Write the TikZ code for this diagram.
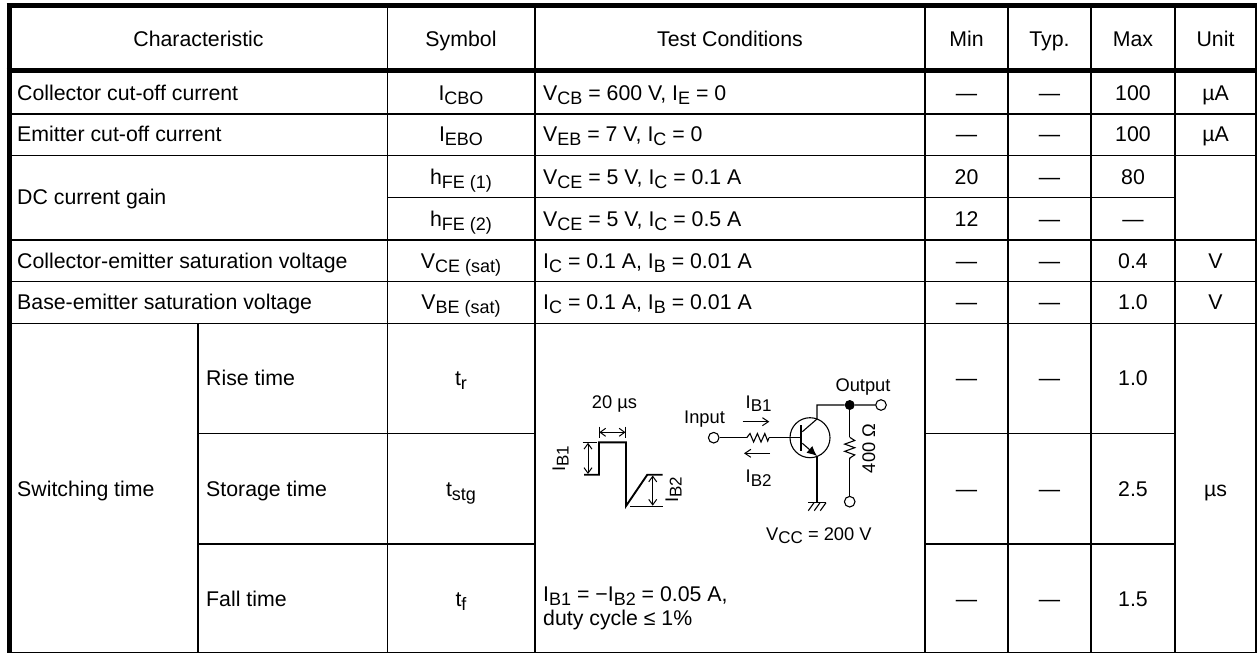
\documentclass[tikz,border=0pt]{standalone}
\usepackage{fontspec}
\setmainfont{Liberation Sans}
\usetikzlibrary{arrows.meta}
\newcommand\tbf{\fontsize{21.3}{23.5}\selectfont}
\newcommand\dgf{\fontsize{18.3}{20}\selectfont}
\newcommand\sbs[1]{\raisebox{-4pt}{\fontsize{18}{18}\selectfont #1}}
\newcommand\sbd[1]{\raisebox{-3.5pt}{\fontsize{17}{17}\selectfont #1}}
\tikzset{
  x=1pt,y=-1pt,
  heavy/.style={line width=4.6pt},
  leftheavy/.style={line width=5pt},
  rule/.style={line width=1.5pt},
  ctext/.style={inner sep=0pt,anchor=base,font=\tbf},
  ltext/.style={inner sep=0pt,anchor=base west,font=\tbf},
  dtext/.style={inner sep=0pt,anchor=base,font=\dgf},
  wire/.style={line width=1.1pt},
  pulse/.style={line width=1.9pt,line join=miter},
  thin tick/.style={line width=1pt},
  dim/.style={line width=1pt,{Straight Barb[length=5.5pt,width=8pt]}-{Straight Barb[length=5.5pt,width=8pt]}},
  flow/.style={line width=1pt,-{Straight Barb[length=6pt,width=8pt]}},
  term/.style={circle,draw,line width=1.1pt,fill=white,inner sep=0pt,minimum size=10.6pt},
  junction/.style={circle,fill=black,inner sep=0pt,minimum size=10pt},
}
\begin{document}
\begin{tikzpicture}
\useasboundingbox (0,0) rectangle (1257,653);
% --- table rules ---
\draw[rule] (1256,5) -- (1256,652.3);
\draw[rule] (387.7,5) -- (387.7,652.3);
\draw[rule] (535,5) -- (535,652.3);
\draw[rule] (925,5) -- (925,652.3);
\draw[rule] (1008,5) -- (1008,652.3);
\draw[rule] (1091,5) -- (1091,652.3);
\draw[rule] (1175,5) -- (1175,652.3);
\draw[rule] (198,323.7) -- (198,652.3);
\draw[rule] (9,114) -- (1257,114);
\draw[rule] (9,155.7) -- (1257,155.7);
\draw[rule] (387.7,197.4) -- (1175,197.4);
\draw[rule] (9,240) -- (1257,240);
\draw[rule] (9,281.7) -- (1257,281.7);
\draw[rule] (9,323.7) -- (1257,323.7);
\draw[rule] (198,433.7) -- (535,433.7);
\draw[rule] (925,433.7) -- (1175,433.7);
\draw[rule] (198,543.8) -- (535,543.8);
\draw[rule] (925,543.8) -- (1175,543.8);
\draw[rule] (7,652.3) -- (1257,652.3);
\draw[heavy] (6.7,5.5) -- (1257,5.5);
\draw[heavy] (6.7,70.5) -- (1257,70.5);
\draw[leftheavy] (9.2,3.2) -- (9.2,653);
% --- header ---
\node[ctext] (hChar) at (198.5,46) {Characteristic};
\node[ctext] (hSym) at (461,46) {Symbol};
\node[ctext] (hTest) at (730,46) {Test Conditions};
\node[ctext] (hMin) at (966.5,46) {Min};
\node[ctext] (hTyp) at (1049.5,46) {Typ.};
\node[ctext] (hMax) at (1133,46) {Max};
\node[ctext] (hUnit) at (1215.5,46) {Unit};
% --- characteristic ---
\node[ltext] (c1) at (17,100) {Collector cut-off current};
\node[ltext] (c2) at (17,141.5) {Emitter cut-off current};
\node[ltext] (c3) at (17,204) {DC current gain};
\node[ltext] (c4) at (17,268) {Collector-emitter saturation voltage};
\node[ltext] (c5) at (17,309.5) {Base-emitter saturation voltage};
\node[ltext] (c6) at (17,496.5) {Switching time};
\node[ltext] (c7) at (206,385.5) {Rise time};
\node[ltext] (c8) at (206,496.5) {Storage time};
\node[ltext] (c9) at (206,606) {Fall time};
% --- symbols ---
\node[ctext] (s1) at (461,100) {I\sbs{CBO}};
\node[ctext] (s2) at (461,141.5) {I\sbs{EBO}};
\node[ctext] (s3) at (461,184) {h\sbs{FE (1)}};
\node[ctext] (s4) at (461,226) {h\sbs{FE (2)}};
\node[ctext] (s5) at (461,268) {V\sbs{CE (sat)}};
\node[ctext] (s6) at (461,309.5) {V\sbs{BE (sat)}};
\node[ctext] (s7) at (461,385.5) {t\sbs{r}};
\node[ctext] (s8) at (461,496.5) {t\sbs{stg}};
\node[ctext] (s9) at (461,606) {t\sbs{f}};
% --- conditions ---
\node[ltext] (t1) at (543,100) {V\sbs{CB} = 600 V, I\sbs{E} = 0};
\node[ltext] (t2) at (543,141.5) {V\sbs{EB} = 7 V, I\sbs{C} = 0};
\node[ltext] (t3) at (543,184) {V\sbs{CE} = 5 V, I\sbs{C} = 0.1 A};
\node[ltext] (t4) at (543,226) {V\sbs{CE} = 5 V, I\sbs{C} = 0.5 A};
\node[ltext] (t5) at (543,268) {I\sbs{C} = 0.1 A, I\sbs{B} = 0.01 A};
\node[ltext] (t6) at (543,309.5) {I\sbs{C} = 0.1 A, I\sbs{B} = 0.01 A};
\node[ltext] (t7) at (543,601.7) {I\sbs{B1} = −I\sbs{B2} = 0.05 A,};
\node[ltext] (t8) at (543,625.2) {duty cycle ≤ 1\%};
% --- min / typ / max / unit ---
\foreach \nm/\yy/\a/\b/\c/\u in {
  r1/100/—/—/100/µA,
  r2/141.5/—/—/100/µA,
  r3/184/20/—/80/,
  r4/226/12/—/—/,
  r5/268/—/—/0.4/V,
  r6/309.5/—/—/1.0/V,
  r7/385.5/—/—/1.0/,
  r8/496.5/—/—/2.5/µs,
  r9/606/—/—/1.5/}{
  \node[ctext] (\nm min) at (966.5,\yy) {\a};
  \node[ctext] (\nm typ) at (1049.5,\yy) {\b};
  \node[ctext] (\nm max) at (1133,\yy) {\c};
  \node[ctext] (\nm unit) at (1215.5,\yy) {\u};
}
% --- pulse waveform ---
\draw[pulse] (584,474.7) -- (599,474.7) -- (599,442.3) -- (626,442.3) -- (626,506) -- (647.3,474.7) -- (662.7,474.7);
\draw[thin tick] (582.7,442.5) -- (597,442.5);
\draw[thin tick] (630,506) -- (662.7,506);
\draw[thin tick] (599,426.7) -- (599,438.3);
\draw[thin tick] (625.8,426.7) -- (625.8,438.3);
\coordinate (wL) at (599.3,432.3);
\coordinate (wR) at (625.5,432.3);
\draw[dim] (wL) -- (wR);
\coordinate (b1T) at (588,442.8);
\coordinate (b1B) at (588,474);
\draw[dim] (b1T) -- (b1B);
\coordinate (b2T) at (652.7,475.5);
\coordinate (b2B) at (652.7,505.7);
\draw[dim] (b2T) -- (b2B);
\node[dtext] (lw) at (614.5,408.3) {20 µs};
\node[dtext,rotate=90] (lb1) at (565,459) {I\sbd{B1}};
\node[dtext,rotate=90] (lb2) at (678,490) {I\sbd{B2}};
% --- circuit ---
\node[term] (inp) at (713.7,437.7) {};
\node[term] (outp) at (881,405) {};
\node[term] (vcc) at (849.7,501.7) {};
\node[junction] (jn) at (849.7,405) {};
\coordinate (rinA) at (746.7,437.7);
\coordinate (rinB) at (769,437.7);
\coordinate (base) at (800.7,437.7);
\coordinate (tc) at (810,437.7);
\coordinate (baseT) at (800.7,425);
\coordinate (baseB) at (800.7,450.7);
\coordinate (collB) at (802.3,431.7);
\coordinate (collK) at (817,419);
\coordinate (collTop) at (817,405);
\coordinate (emitB) at (802.3,443.3);
\coordinate (emitK) at (817,456);
\coordinate (gnd) at (817,502.7);
\coordinate (rvA) at (849.7,437.3);
\coordinate (rvB) at (849.7,459.3);
\draw[wire] (inp) -- (rinA);
\draw[wire,line join=miter] (rinA) -- ++(3.3,-4.2) -- ++(3.6,8.5) -- ++(3.8,-8.5) -- ++(3.6,8.5) -- ++(3.8,-8.5) -- ++(2.9,7.5) -- (rinB);
\draw[wire] (rinB) -- (base);
\draw[wire] (tc) circle[radius=20];
\draw[line width=2pt] (baseT) -- (baseB);
\draw[wire] (collB) -- (collK) -- (collTop) -- (jn) -- (outp);
\draw[wire,-{Latex[length=10pt,width=9pt]}] (emitB) -- (emitK);
\draw[wire] (emitK) -- (gnd);
\draw[wire] (808,502.7) -- (826,502.7);
\draw[wire] (814,502.7) -- (808.3,510.7);
\draw[wire] (820,502.7) -- (814.3,510.7);
\draw[wire] (826,502.7) -- (820.3,510.7);
\draw[wire] (jn) -- (rvA);
\draw[wire,line join=miter] (rvA) -- ++(5,3.2) -- ++(-10,3.6) -- ++(10,3.6) -- ++(-10,3.6) -- ++(10,3.6) -- ++(-5,3.2) -- (rvB);
\draw[wire] (rvB) -- (vcc);
\coordinate (a1A) at (742.7,421.7);
\coordinate (a1B) at (769.3,421.7);
\draw[flow] (a1A) -- (a1B);
\coordinate (a2A) at (770,453.3);
\coordinate (a2B) at (744,453.3);
\draw[flow] (a2A) -- (a2B);
\node[dtext,anchor=base west] (lin) at (684,423.3) {Input};
\node[dtext,anchor=base west] (li1) at (745.5,408.3) {I\sbd{B1}};
\node[dtext,anchor=base west] (li2) at (745.5,482.7) {I\sbd{B2}};
\node[dtext] (lout) at (863,391.7) {Output};
\node[dtext,rotate=90] (lr) at (875,448.5) {400 Ω};
\node[dtext,anchor=base west] (lvcc) at (766,540) {V\sbd{CC} = 200 V};
\end{tikzpicture}
\end{document}
